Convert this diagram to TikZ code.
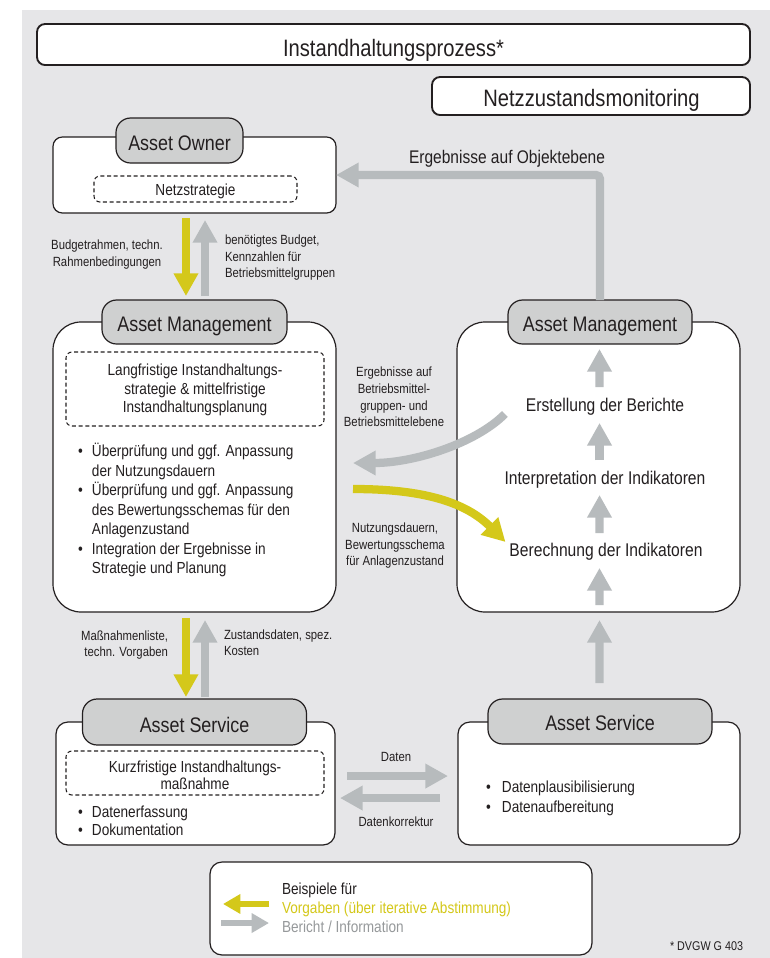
\documentclass[tikz,border=0pt]{standalone}
\usepackage{fontspec}
\setmainfont{Liberation Sans}[FakeStretch=0.85]
\usetikzlibrary{arrows.meta}
\definecolor{bg}{RGB}{230,230,232}
\definecolor{ylw}{RGB}{212,200,26}
\definecolor{gry}{RGB}{183,187,189}
\definecolor{tabfill}{RGB}{207,208,208}
\definecolor{txt}{RGB}{35,31,32}
\definecolor{legtxt}{RGB}{150,153,155}
\newcommand{\fsz}[2]{\fontsize{#1}{#2}\selectfont}
\begin{document}
\begin{tikzpicture}[x=0.75pt,y=-0.75pt,
  every node/.style={text=txt,inner sep=0pt,outer sep=0pt},
  titlebox/.style={draw=txt,fill=white,line width=1.4pt,rounded corners=6pt},
  mainbox/.style={draw=txt,fill=white,line width=0.9pt},
  tabbox/.style={draw=txt,fill=tabfill,line width=0.9pt,rounded corners=11pt},
  tabtext/.style={anchor=base,font=\fsz{15.8}{19}},
  dashbox/.style={draw=txt,line width=0.8pt,dash pattern=on 3pt off 2pt,rounded corners=4.5pt},
  fat/.style={line width=6.2pt,-{Triangle[length=17pt,width=17.5pt]}},
  yarr/.style={fat,draw=ylw},
  garr/.style={fat,draw=gry},
  legarr/.style={line width=4.5pt,-{Triangle[length=13pt,width=14pt]}},
  small/.style={font=\fsz{10}{12.4}},
  body/.style={font=\fsz{12}{14.6}},
  step text/.style={font=\fsz{13.8}{16}},
]
\useasboundingbox (0,0) rectangle (770,958);
\fill[bg] (22,10) rectangle (770,958);

% headers
\node[titlebox,minimum width=534.75pt,minimum height=30.75pt] (title) at (393.5,44.5) {};
\node[anchor=base,font=\fsz{17.8}{21}] (titletxt) at (393.5,56) {Instandhaltungsprozess*};
\node[titlebox,minimum width=238.5pt,minimum height=28.5pt] (netz) at (591,96) {};
\node[anchor=base,font=\fsz{17.8}{21}] (netztxt) at (591.5,106) {Netzzustandsmonitoring};

% Asset Owner
\node[mainbox,rounded corners=7pt,minimum width=212.25pt,minimum height=57pt] (ao) at (194.5,175) {};
\node[tabbox,minimum width=95.25pt,minimum height=33.75pt] (aot) at (179.5,140.5) {};
\node[tabtext] (aotxt) at (179.5,150) {Asset Owner};
\node[dashbox,minimum width=152.25pt,minimum height=19.5pt] (ns) at (195.5,189) {};
\node[anchor=base,body] (nstxt) at (195.5,195) {Netzstrategie};

% Asset Management left
\node[mainbox,rounded corners=21pt,minimum width=212.25pt,minimum height=217.5pt] (amL) at (194.5,467) {};
\node[tabbox,minimum width=138.75pt,minimum height=33pt] (amLt) at (194.5,322) {};
\node[tabtext] (amLtxt) at (194.5,331) {Asset Management};
\node[dashbox,minimum width=193.5pt,minimum height=55.5pt] (lang) at (195,389) {};
\node[align=center,font=\fsz{12}{13.9}] (langtxt) at (195,390) {Langfristige Instandhaltungs-\\strategie \& mittelfristige\\Instandhaltungsplanung};
\node[anchor=base west,body] (amLlist) at (78,456.7) {\begin{tabular}[t]{@{}l@{\hspace{6.9pt}}l@{}}
\textbullet & Überprüfung und ggf. Anpassung\\
 & der Nutzungsdauern\\
\textbullet & Überprüfung und ggf. Anpassung\\
 & des Bewertungsschemas für den\\
 & Anlagenzustand\\
\textbullet & Integration der Ergebnisse in\\
 & Strategie und Planung
\end{tabular}};

% Asset Management right
\node[mainbox,rounded corners=21pt,minimum width=212.25pt,minimum height=217.5pt] (amR) at (598.5,467) {};
\node[tabbox,minimum width=138pt,minimum height=33pt] (amRt) at (600,322) {};
\node[tabtext] (amRtxt) at (600,331) {Asset Management};
\node[step text] (e1) at (605,407) {Erstellung der Berichte};
\node[step text] (e2) at (605,480) {Interpretation der Indikatoren};
\node[step text] (e3) at (606,552) {Berechnung der Indikatoren};

% Asset Service left
\node[mainbox,rounded corners=9pt,minimum width=209.25pt,minimum height=92.25pt] (asL) at (195.5,783.5) {};
\node[tabbox,minimum width=168pt,minimum height=34.5pt] (asLt) at (194.5,722) {};
\node[tabtext] (asLtxt) at (194.5,732) {Asset Service};
\node[dashbox,minimum width=193.5pt,minimum height=33pt] (kurz) at (195,773) {};
\node[align=center,font=\fsz{12}{12.75}] (kurztxt) at (195,775) {Kurzfristige Instandhaltungs-\\maßnahme};
\node[anchor=base west,font=\fsz{12}{13.5}] (asLlist) at (78,817.5) {\begin{tabular}[t]{@{}l@{\hspace{6.9pt}}l@{}}
\textbullet & Datenerfassung\\
\textbullet & Dokumentation
\end{tabular}};

% Asset Service right
\node[mainbox,rounded corners=9pt,minimum width=211.5pt,minimum height=92.25pt] (asR) at (599,783.5) {};
\node[tabbox,minimum width=168pt,minimum height=33.75pt] (asRt) at (600,721.5) {};
\node[tabtext] (asRtxt) at (600,730) {Asset Service};
\node[anchor=base west,font=\fsz{12}{15}] (asRlist) at (486,792.5) {\begin{tabular}[t]{@{}l@{\hspace{8.4pt}}l@{}}
\textbullet & Datenplausibilisierung\\
\textbullet & Datenaufbereitung
\end{tabular}};

% arrows Asset Owner <-> Asset Management
\draw[yarr] ([xshift=-6.4pt,yshift=-3.75pt]ao.south) -- ([xshift=-6.4pt,yshift=3pt]amLt.north);
\draw[garr] ([xshift=7.9pt,yshift=3pt]amLt.north) -- ([xshift=7.9pt,yshift=-5.25pt]ao.south);
\node[small,align=center] (lb1) at (107,254.5) {Budgetrahmen, techn.\\Rahmenbedingungen};
\node[small,align=left,anchor=west] (lb2) at (225,258) {benötigtes Budget,\\Kennzahlen für\\Betriebsmittelgruppen};

% arrows Asset Management <-> Asset Service
\draw[yarr] ([xshift=-6.4pt,yshift=-4.5pt]amL.south) -- ([xshift=-6.4pt,yshift=1.5pt]asLt.north);
\draw[garr] ([xshift=7.9pt,yshift=1.5pt]asLt.north) -- ([xshift=7.9pt,yshift=-6pt]amL.south);
\node[small,align=right,anchor=east] (lb3) at (168,645) {Maßnahmenliste,\\techn. Vorgaben};
\node[small,align=left,anchor=west] (lb4) at (224,642.5) {Zustandsdaten, spez.\\Kosten};

% Objektebene
\draw[garr,rounded corners=3pt] (amRt.north) |- (ao.east);
\node[font=\fsz{13.7}{16}] (lbobj) at (507,159) {Ergebnisse auf Objektebene};

% right box internal arrows
\draw[garr] ([xshift=-4.1pt,yshift=8.5pt]e1.north) -- ([xshift=-0.4pt,yshift=-3.75pt]amRt.south);
\draw[garr] ([xshift=-4.1pt,yshift=8.5pt]e2.north) -- ([xshift=-4.1pt,yshift=-5.5pt]e1.south);
\draw[garr] ([xshift=-4.9pt,yshift=7.8pt]e3.north) -- ([xshift=-4.1pt,yshift=-4.8pt]e2.south);
\draw[garr] ([xshift=0.75pt,yshift=5.25pt]amR.south) -- ([xshift=-4.9pt,yshift=-5.5pt]e3.south);
\draw[garr] ([xshift=-0.4pt,yshift=12pt]asRt.north) -- ([xshift=0.75pt,yshift=-6pt]amR.south);

% curved arrows
\draw[garr] ([xshift=-15.75pt,yshift=-5.25pt]e1.west) .. controls +(-30,30) and +(60,0) .. ([xshift=12.75pt,yshift=3pt]amL.east);
\draw[yarr] ([xshift=12.75pt,yshift=-16.5pt]amL.east) .. controls +(70,0) and +(-40,-40) .. ([xshift=-3pt,yshift=7.5pt]e3.west);
\node[small,align=center] (lb5) at (394,397) {Ergebnisse auf\\Betriebsmittel-\\gruppen- und\\Betriebsmittelebene};
\node[small,align=center] (lb6) at (395,546) {Nutzungsdauern,\\Bewertungsschema\\für Anlagenzustand};

% data arrows
\draw[garr] ([xshift=9pt,yshift=5.6pt]asL.east) -- ([xshift=-7.5pt,yshift=5.6pt]asR.west);
\draw[garr] ([xshift=-13.5pt,yshift=-10.9pt]asR.west) -- ([xshift=3.75pt,yshift=-10.9pt]asL.east);
\node[small] (lb7) at (396,757) {Daten};
\node[small] (lb8) at (396,822) {Datenkorrektur};

% legend
\node[mainbox,rounded corners=9pt,minimum width=286.5pt,minimum height=69.75pt] (lg) at (401,908.5) {};
\draw[legarr,draw=ylw] ([xshift=44.25pt,yshift=3.4pt]lg.west) -- ([xshift=9.75pt,yshift=3.4pt]lg.west);
\draw[legarr,draw=gry] ([xshift=8.25pt,yshift=-10.9pt]lg.west) -- ([xshift=44.25pt,yshift=-10.9pt]lg.west);
\node[anchor=west,align=left,font=\fsz{12}{14.25}] (lgtxt) at (282,908) {Beispiele für\\\textcolor{ylw}{Vorgaben (über iterative Abstimmung)}\\\textcolor{legtxt}{Bericht / Information}};
\node[anchor=base east,font=\fsz{9.5}{11}] (dvgw) at (743,950) {* DVGW G 403};
\end{tikzpicture}
\end{document}
